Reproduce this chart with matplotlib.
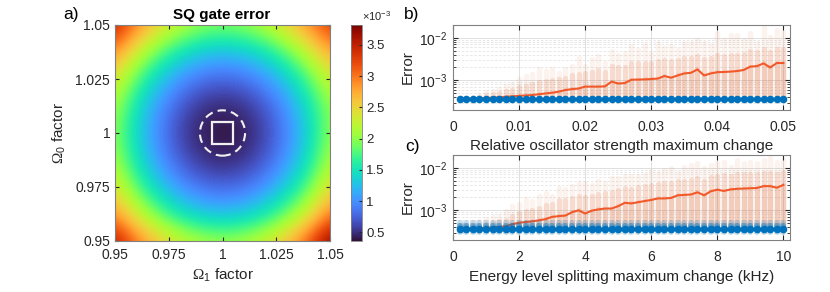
import numpy as np
import matplotlib
matplotlib.use("Agg")
import matplotlib.pyplot as plt
from matplotlib.patches import Rectangle, Circle

plt.rcParams['font.family'] = ['Liberation Sans', 'DejaVu Sans']
plt.rcParams['mathtext.fontset'] = 'custom'
plt.rcParams['mathtext.rm'] = 'Liberation Sans'
plt.rcParams['mathtext.it'] = 'Liberation Sans:italic'
plt.rcParams['mathtext.sf'] = 'Liberation Serif'

# ---------------- data ----------------
# panel a: SQ gate error grid (units 1e-3), rows Omega0 = 0.95..1.05, cols Omega1 = 0.95..1.05
omega_factors = [0.95, 0.96, 0.97, 0.98, 0.99, 1.00, 1.01, 1.02, 1.03, 1.04, 1.05]
sq_error_e3 = [
    [3.55, 3.00, 2.60, 2.30, 2.12, 2.05, 2.12, 2.32, 2.66, 3.15, 3.80],
    [3.00, 2.45, 2.00, 1.68, 1.48, 1.42, 1.48, 1.69, 2.03, 2.52, 3.15],
    [2.56, 1.99, 1.54, 1.21, 1.02, 0.95, 1.02, 1.22, 1.56, 2.03, 2.66],
    [2.25, 1.67, 1.21, 0.89, 0.69, 0.63, 0.69, 0.89, 1.22, 1.69, 2.32],
    [2.06, 1.47, 1.02, 0.69, 0.50, 0.43, 0.50, 0.69, 1.02, 1.48, 2.12],
    [1.99, 1.41, 0.95, 0.62, 0.43, 0.36, 0.43, 0.62, 0.95, 1.41, 2.02],
    [2.05, 1.46, 1.01, 0.68, 0.49, 0.43, 0.49, 0.68, 1.01, 1.46, 2.02],
    [2.24, 1.66, 1.20, 0.88, 0.68, 0.62, 0.68, 0.88, 1.20, 1.65, 2.18],
    [2.56, 1.98, 1.53, 1.20, 1.01, 0.94, 1.01, 1.20, 1.52, 1.96, 2.48],
    [3.02, 2.43, 1.97, 1.65, 1.45, 1.38, 1.45, 1.64, 1.96, 2.40, 2.88],
    [3.45, 2.95, 2.50, 2.20, 2.00, 1.93, 2.00, 2.18, 2.50, 2.90, 3.30],
]
a_ticks = [0.95, 0.975, 1.0, 1.025, 1.05]
a_ticklabels = ['0.95', '0.975', '1', '1.025', '1.05']
cbar_ticks_e3 = [0.5, 1, 1.5, 2, 2.5, 3, 3.5]
cbar_ticklabels = ['0.5', '1', '1.5', '2', '2.5', '3', '3.5']
square_center = (1.0, 1.0)
square_half = 0.005
circle_radius = 0.0105

# panel b: relative oscillator strength maximum change
b_x = [0.001 * k for k in range(1, 51)]
b_blue = [3.7e-4] * 50
b_mean = [3.7e-4, 3.7e-4, 3.75e-4, 3.8e-4, 3.85e-4, 3.9e-4, 4.0e-4, 4.1e-4, 4.2e-4, 4.3e-4,
          4.4e-4, 4.5e-4, 4.7e-4, 4.9e-4, 5.1e-4, 5.4e-4, 5.9e-4, 6.2e-4, 6.4e-4, 7.1e-4,
          7.1e-4, 7.1e-4, 7.2e-4, 9.3e-4, 8.4e-4, 8.6e-4, 1.03e-3, 1.04e-3, 1.05e-3, 1.07e-3,
          1.1e-3, 1.26e-3, 1.15e-3, 1.3e-3, 1.45e-3, 1.5e-3, 1.8e-3, 1.3e-3, 1.45e-3, 1.55e-3,
          1.57e-3, 1.6e-3, 1.65e-3, 1.75e-3, 2.1e-3, 2.15e-3, 2.5e-3, 2.0e-3, 2.55e-3, 2.55e-3]
b_dense = [3.8e-4, 3.8e-4, 3.9e-4, 4.1e-4, 4.5e-4, 4.7e-4, 5.0e-4, 5.5e-4, 6.0e-4, 6.8e-4,
           7.5e-4, 8.0e-4, 9.0e-4, 9.5e-4, 1.0e-3, 1.05e-3, 1.15e-3, 1.3e-3, 1.4e-3, 1.5e-3,
           1.6e-3, 1.7e-3, 1.6e-3, 2.2e-3, 2.0e-3, 2.1e-3, 2.6e-3, 2.5e-3, 2.6e-3, 2.5e-3,
           2.8e-3, 3.0e-3, 2.8e-3, 3.0e-3, 3.3e-3, 3.4e-3, 3.8e-3, 3.2e-3, 3.4e-3, 4.0e-3,
           3.8e-3, 4.0e-3, 4.0e-3, 4.2e-3, 4.8e-3, 4.6e-3, 5.5e-3, 4.6e-3, 5.5e-3, 5.5e-3]
b_top = [3.8e-4, 3.9e-4, 4.0e-4, 4.6e-4, 5.2e-4, 5.6e-4, 6.2e-4, 7.4e-4, 8.1e-4, 1.05e-3,
         1.26e-3, 1.38e-3, 1.8e-3, 1.65e-3, 1.8e-3, 1.5e-3, 1.8e-3, 2.15e-3, 3.4e-3, 2.15e-3,
         3.1e-3, 3.7e-3, 2.6e-3, 4.8e-3, 4.0e-3, 4.4e-3, 6.3e-3, 5.3e-3, 6.9e-3, 4.4e-3,
         7.5e-3, 5.8e-3, 6.3e-3, 5.3e-3, 7.5e-3, 7.5e-3, 9.0e-3, 7.5e-3, 6.9e-3, 1.28e-2,
         9.0e-3, 1.17e-2, 1.17e-2, 9.0e-3, 1.28e-2, 7.5e-3, 1.8e-2, 1.07e-2, 1.5e-2, 1.4e-2]
b_xticks = [0, 0.01, 0.02, 0.03, 0.04, 0.05]
b_xticklabels = ['0', '0.01', '0.02', '0.03', '0.04', '0.05']

# panel c: energy level splitting maximum change (kHz)
c_x = [0.2 * k for k in range(1, 51)]
c_blue = [3.7e-4] * 50
c_blue_lo = [3.15e-4] * 50
c_blue_hi = [5.0e-4] * 50
c_blue_core_lo = [3.35e-4] * 50
c_blue_core_hi = [4.2e-4] * 50
c_mean = [3.7e-4, 3.7e-4, 3.75e-4, 3.8e-4, 3.85e-4, 3.95e-4, 4.05e-4, 4.2e-4, 4.7e-4, 5.1e-4,
          5.3e-4, 5.5e-4, 5.8e-4, 6.2e-4, 7.0e-4, 7.3e-4, 7.5e-4, 9.0e-4, 1.0e-3, 8.4e-4,
          9.8e-4, 1.05e-3, 1.1e-3, 1.1e-3, 1.25e-3, 1.5e-3, 1.45e-3, 1.55e-3, 1.65e-3, 1.75e-3,
          1.9e-3, 1.9e-3, 1.95e-3, 2.25e-3, 2.3e-3, 2.35e-3, 2.65e-3, 2.25e-3, 2.8e-3, 3.05e-3,
          2.85e-3, 3.1e-3, 3.2e-3, 3.25e-3, 3.3e-3, 3.35e-3, 3.7e-3, 3.7e-3, 3.4e-3, 3.95e-3]
c_dense = [4.2e-4, 4.2e-4, 4.2e-4, 4.3e-4, 4.8e-4, 5.0e-4, 5.5e-4, 6.0e-4, 7.5e-4, 8.5e-4,
           9.5e-4, 1.0e-3, 1.15e-3, 1.3e-3, 1.4e-3, 1.7e-3, 1.7e-3, 1.9e-3, 2.2e-3, 2.0e-3,
           2.2e-3, 2.4e-3, 2.5e-3, 2.7e-3, 3.0e-3, 3.3e-3, 3.2e-3, 3.5e-3, 3.7e-3, 4.0e-3,
           4.2e-3, 4.3e-3, 4.5e-3, 4.8e-3, 5.0e-3, 5.3e-3, 5.8e-3, 5.0e-3, 6.0e-3, 6.5e-3,
           6.8e-3, 6.5e-3, 7.0e-3, 7.0e-3, 7.2e-3, 7.0e-3, 7.5e-3, 7.5e-3, 7.2e-3, 7.8e-3]
c_top = [4.5e-4, 4.8e-4, 5.2e-4, 5.6e-4, 6.2e-4, 6.8e-4, 7.4e-4, 9.7e-4, 1.26e-3, 1.38e-3,
         1.8e-3, 1.65e-3, 2.15e-3, 2.6e-3, 2.15e-3, 3.4e-3, 3.1e-3, 3.7e-3, 4.4e-3, 4.4e-3,
         4.0e-3, 4.8e-3, 4.4e-3, 5.8e-3, 5.8e-3, 6.3e-3, 6.5e-3, 6.3e-3, 6.9e-3, 8.2e-3,
         7.5e-3, 9.0e-3, 9.8e-3, 7.5e-3, 1.07e-2, 1.17e-2, 1.28e-2, 9.8e-3, 1.17e-2, 1.28e-2,
         1.4e-2, 1.07e-2, 1.53e-2, 1.28e-2, 1.4e-2, 1.28e-2, 1.53e-2, 1.68e-2, 1.4e-2, 1.53e-2]
c_xticks = [0, 2, 4, 6, 8, 10]
c_xticklabels = ['0', '2', '4', '6', '8', '10']

# ---------------- styling ----------------
W, H = 830, 292
DPI = 100
TXT = '#262626'
SPINE = '#808080'
ORANGE = '#D95319'
LINE = '#F2592A'
BLUE = '#0072BD'
FS = 10

fig = plt.figure(figsize=(W / DPI, H / DPI), dpi=DPI)


def fx(px):
    return px / W


def fy(py):
    return 1 - py / H


# ---------------- panel a ----------------
ax_a = fig.add_axes([fx(115), fy(241), fx(330) - fx(115), fy(25) - fy(241)])
grid = np.array(sq_error_e3) * 1e-3
step = omega_factors[1] - omega_factors[0]
ext = [omega_factors[0] - step / 2, omega_factors[-1] + step / 2,
       omega_factors[0] - step / 2, omega_factors[-1] + step / 2]
im = ax_a.imshow(grid, origin='lower', extent=ext, cmap='turbo',
                 vmin=0.36e-3, vmax=3.82e-3, interpolation='bicubic',
                 interpolation_stage='data', aspect='auto')
ax_a.set_xlim(0.95, 1.05)
ax_a.set_ylim(0.95, 1.05)
ax_a.set_xticks(a_ticks)
ax_a.set_xticklabels(a_ticklabels)
ax_a.set_yticks(a_ticks)
ax_a.set_yticklabels(a_ticklabels)
ax_a.tick_params(direction='in', length=3, labelsize=FS, colors=TXT, top=True, right=True)
ax_a.tick_params(axis='x', pad=5)
ax_a.tick_params(axis='y', pad=3.5)
for s in ax_a.spines.values():
    s.set_color(SPINE)
    s.set_linewidth(0.8)
ax_a.add_patch(Rectangle((square_center[0] - square_half, square_center[1] - square_half),
                         2 * square_half, 2 * square_half, fill=False,
                         edgecolor='#f0f0f0', linewidth=1.6))
ax_a.add_patch(Circle(square_center, circle_radius, fill=False, edgecolor='#f0f0f0',
                      linewidth=1.5, linestyle=(0, (4, 2.5))))
ax_a.set_xlabel(r'$\mathsf{\Omega}_1$ factor', fontsize=FS + 1, color=TXT, labelpad=3)
ax_a.set_ylabel(r'$\mathsf{\Omega}_0$ factor', fontsize=FS + 1, color=TXT, labelpad=5)
fig.text(fx(222), fy(15), 'SQ gate error', ha='center', va='center', fontsize=FS + 1,
         fontweight='bold', color='black')
fig.text(fx(71), fy(15), 'a)', ha='center', va='center', fontsize=12.5, color='black')

# colorbar
cax = fig.add_axes([fx(351), fy(241), fx(362) - fx(351), fy(25) - fy(241)])
cb = fig.colorbar(im, cax=cax)
cb.set_ticks([t * 1e-3 for t in cbar_ticks_e3])
cb.set_ticklabels(cbar_ticklabels)
cax.tick_params(direction='in', length=2.5, labelsize=FS - 0.5, colors=TXT, pad=3)
cb.outline.set_edgecolor(SPINE)
cb.outline.set_linewidth(0.6)
fig.text(fx(362), fy(16), r'$\times10^{-3}$', ha='left', va='center', fontsize=8, color=TXT)


# ---------------- panels b and c ----------------
def scatter_panel(ax, x, blue, mean, dense, top, xticks, xticklabels, xlim, xlabel,
                  xpad, labelpad, blue_lo=None, blue_hi=None, core_lo=None, core_hi=None):
    ax.set_yscale('log')
    ax.set_ylim(2e-4, 2e-2)
    ax.set_xlim(*xlim)
    ax.set_axisbelow(True)
    ax.grid(True, which='major', axis='both', color='#dedede', linewidth=0.7)
    ax.grid(True, which='minor', axis='y', color='#e4e4e4', linewidth=0.6,
            linestyle=(0, (3, 2)))
    lw = 3.9
    ax.vlines(x, blue, top, colors=ORANGE, linewidth=lw, alpha=0.07, capstyle='round')
    ax.vlines(x, blue, dense, colors=ORANGE, linewidth=lw, alpha=0.14, capstyle='round')
    ax.vlines(x, blue, mean, colors=ORANGE, linewidth=lw, alpha=0.10, capstyle='round')
    ax.plot(x, mean, color=LINE, linewidth=1.5, zorder=3)
    if blue_lo is not None:
        ax.vlines(x, blue_lo, blue_hi, colors=BLUE, linewidth=4.4, alpha=0.22,
                  capstyle='round', zorder=4)
        ax.vlines(x, core_lo, core_hi, colors=BLUE, linewidth=4.4, alpha=0.45,
                  capstyle='round', zorder=4)
    ax.scatter(x, blue, s=30, color=BLUE, linewidths=0, zorder=5)
    ax.set_xticks(xticks)
    ax.set_xticklabels(xticklabels)
    ax.set_yticks([1e-3, 1e-2])
    ax.tick_params(which='both', direction='in', top=True, right=True, colors=TXT,
                   labelsize=FS)
    ax.tick_params(which='major', length=3.5)
    ax.tick_params(which='minor', length=2)
    ax.tick_params(axis='x', pad=xpad)
    ax.tick_params(axis='y', pad=4)
    for s in ax.spines.values():
        s.set_color(SPINE)
        s.set_linewidth(0.8)
    ax.set_xlabel(xlabel, fontsize=FS + 1, color=TXT, labelpad=labelpad)
    ax.set_ylabel('Error', fontsize=FS + 1, color=TXT, labelpad=3)


ax_b = fig.add_axes([fx(453), fy(110), fx(790) - fx(453), fy(25) - fy(110)])
scatter_panel(ax_b, b_x, b_blue, b_mean, b_dense, b_top, b_xticks, b_xticklabels,
              (0, 0.051), 'Relative oscillator strength maximum change', 7.5, 3)
fig.text(fx(412), fy(15), 'b)', ha='center', va='center', fontsize=12.5, color='black')

ax_c = fig.add_axes([fx(453), fy(240), fx(790) - fx(453), fy(155) - fy(240)])
scatter_panel(ax_c, c_x, c_blue, c_mean, c_dense, c_top, c_xticks, c_xticklabels,
              (0, 10.2), 'Energy level splitting maximum change (kHz)', 7, 4.5,
              blue_lo=c_blue_lo, blue_hi=c_blue_hi,
              core_lo=c_blue_core_lo, core_hi=c_blue_core_hi)
fig.text(fx(412), fy(146), 'c)', ha='center', va='center', fontsize=12.5, color='black')

fig.savefig('out.png', dpi=DPI)
